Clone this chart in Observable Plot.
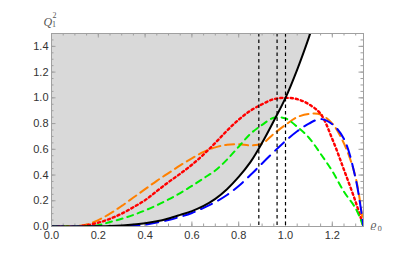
<!DOCTYPE html>
<html>
<head>
<meta charset="utf-8">
<script src="https://cdn.jsdelivr.net/npm/d3@7"></script>
<script src="https://cdn.jsdelivr.net/npm/@observablehq/plot@0.6"></script>
<style>
  html, body { margin: 0; padding: 0; background: #fff; }
</style>
</head>
<body>
<div id="chart"></div>
<script>
// ---- data ----
const rho = [0, 0.05, 0.1, 0.15, 0.2, 0.25, 0.3, 0.35, 0.4, 0.45, 0.5, 0.55, 0.6, 0.65, 0.7, 0.75, 0.8, 0.85, 0.9, 0.95, 1.0, 1.05, 1.1, 1.15, 1.2, 1.25, 1.3, 1.333];
const black  = [0, 0, 0, 0.001, 0.002, 0.004, 0.008, 0.015, 0.026, 0.04, 0.062, 0.09, 0.12, 0.16, 0.215, 0.29, 0.385, 0.5, 0.65, 0.82, 1.0, 1.22, 1.47, 1.75, 2.07, 2.44, 2.86, 3.16];
const red    = [0, 0, 0, 0.01, 0.03, 0.06, 0.10, 0.15, 0.205, 0.275, 0.345, 0.41, 0.48, 0.56, 0.65, 0.745, 0.83, 0.9, 0.95, 0.99, 1.0, 0.99, 0.95, 0.875, 0.68, 0.44, 0.19, 0];
const green  = [0, 0, 0, 0, 0.01, 0.035, 0.06, 0.09, 0.125, 0.165, 0.21, 0.26, 0.315, 0.375, 0.435, 0.52, 0.62, 0.72, 0.79, 0.845, 0.84, 0.775, 0.69, 0.565, 0.43, 0.27, 0.14, 0];
const orange = [0, 0, 0.003, 0.015, 0.05, 0.1, 0.16, 0.225, 0.29, 0.355, 0.415, 0.475, 0.53, 0.58, 0.615, 0.635, 0.64, 0.63, 0.645, 0.72, 0.79, 0.85, 0.875, 0.87, 0.8, 0.645, 0.38, 0];
const blue   = [0, 0, 0, 0, 0, 0, 0, 0.005, 0.015, 0.03, 0.05, 0.075, 0.105, 0.145, 0.19, 0.245, 0.315, 0.40, 0.49, 0.58, 0.665, 0.74, 0.8, 0.835, 0.795, 0.68, 0.37, 0];
const vLines = [0.886, 0.964, 1.0];
const xTicks = [0, 0.2, 0.4, 0.6, 0.8, 1.0, 1.2];
const yTicks = [0, 0.2, 0.4, 0.6, 0.8, 1.0, 1.2, 1.4];
const xMinor = d3.range(0, 1.34, 0.05);
const yMinor = d3.range(0, 1.51, 0.05);
const xDomain = [0, 4 / 3];
const yDomain = [0, 1.5];

// ---- layout ----
const W = 399, H = 266;
const mL = 51, mR = 36, mT = 33, mB = 40;
const pw = W - mL - mR, ph = H - mT - mB;
const frameColor = "#a0a0a0";

const ticksX = (vals, len, side) => Plot.tickX(vals, {x: d => d, stroke: frameColor, strokeWidth: 1,
  ...(side === "bottom" ? {insetTop: ph - len} : {insetBottom: ph - len})});
const ticksY = (vals, len, side) => Plot.tickY(vals, {y: d => d, stroke: frameColor, strokeWidth: 1,
  ...(side === "left" ? {insetRight: pw - len} : {insetLeft: pw - len})});

const curve = "catmull-rom";

const chart = Plot.plot({
  width: W, height: H,
  marginLeft: mL, marginRight: mR, marginTop: mT, marginBottom: mB,
  x: {domain: xDomain},
  y: {domain: yDomain},
  style: {fontFamily: "Liberation Sans, Arial, sans-serif", fontSize: "11px", color: "#333", background: "#fff"},
  marks: [
    Plot.areaY(rho, {x: d => d, y1: black, y2: yDomain[1], fill: "#d9d9d9", curve, clip: true}),
    ticksX(xMinor, 2.5, "bottom"), ticksX(xMinor, 2.5, "top"),
    ticksY(yMinor, 2.5, "left"), ticksY(yMinor, 2.5, "right"),
    ticksX(xTicks, 4.5, "bottom"), ticksX(xTicks, 4.5, "top"),
    ticksY(yTicks, 4.5, "left"), ticksY(yTicks, 4.5, "right"),
    Plot.line(rho, {x: d => d, y: orange, stroke: "#ff8000", strokeWidth: 2, strokeDasharray: "9,5", curve, clip: true}),
    Plot.line(rho, {x: d => d, y: red, stroke: "#ff0000", strokeWidth: 2.4, strokeDasharray: "2.2,3", curve, clip: true}),
    Plot.line(rho, {x: d => d, y: green, stroke: "#00ee00", strokeWidth: 2, strokeDasharray: "6,5", curve, clip: true}),
    Plot.line(rho, {x: d => d, y: blue, stroke: "#0000ff", strokeWidth: 2, strokeDasharray: "12,7", curve, clip: true}),
    Plot.line(rho, {x: d => d, y: black, stroke: "#000", strokeWidth: 2, curve, clip: true}),
    Plot.ruleX(vLines, {stroke: "#000", strokeWidth: 1.2, strokeDasharray: "3.5,3"}),
    Plot.frame({stroke: frameColor}),
    Plot.axisX({ticks: xTicks, tickSize: 0, tickPadding: 5, tickFormat: d3.format(".1f"), label: null}),
    Plot.axisY({ticks: yTicks, tickSize: 0, tickPadding: 3, tickFormat: d3.format(".1f"), label: null}),
    Plot.text(["Q"], {frameAnchor: "top-left", dx: -8, dy: -16, fontFamily: "Liberation Serif, serif", fontStyle: "italic", fontSize: 12, fill: "#555"}),
    Plot.text(["2"], {frameAnchor: "top-left", dx: 1, dy: -21, fontFamily: "Liberation Serif, serif", fontSize: 8, fill: "#555"}),
    Plot.text(["1"], {frameAnchor: "top-left", dx: 0.5, dy: -12, fontFamily: "Liberation Serif, serif", fontSize: 8, fill: "#555"}),
    Plot.text(["ϱ"], {frameAnchor: "bottom-right", dx: 13, dy: 1, fontFamily: "DejaVu Serif, serif", fontStyle: "italic", fontSize: 10, fill: "#555"}),
    Plot.text(["0"], {frameAnchor: "bottom-right", dx: 18.5, dy: 4, fontFamily: "DejaVu Serif, serif", fontSize: 7, fill: "#555"})
  ]
});
document.getElementById("chart").appendChild(chart);
</script>
</body>
</html>
